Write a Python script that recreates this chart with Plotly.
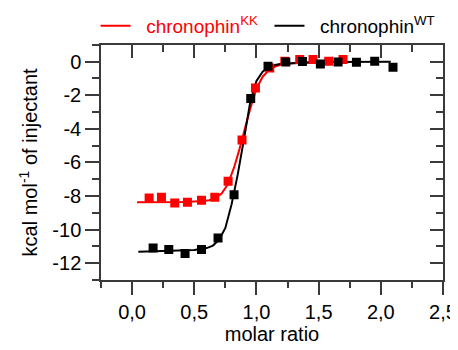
import plotly.graph_objects as go

# Measured points
kk_x = [0.137, 0.236, 0.343, 0.445, 0.558, 0.665, 0.772, 0.884, 0.992, 1.107, 1.228, 1.348, 1.455, 1.581, 1.696]
kk_y = [-8.12, -8.08, -8.42, -8.38, -8.26, -8.08, -7.13, -4.67, -1.57, -0.38, 0.02, 0.12, 0.12, 0.02, 0.12]

wt_x = [0.169, 0.295, 0.426, 0.558, 0.691, 0.82, 0.954, 1.093, 1.236, 1.37, 1.514, 1.656, 1.804, 1.951, 2.098]
wt_y = [-11.09, -11.19, -11.43, -11.19, -10.5, -7.92, -2.2, -0.28, -0.02, 0.0, -0.14, -0.02, -0.04, 0.02, -0.34]

# Fitted curves
kk_fit_x = [0.04, 0.2, 0.4, 0.55, 0.62, 0.67, 0.72, 0.77, 0.82, 0.86, 0.9, 0.95, 1.0, 1.05, 1.1, 1.15, 1.2, 1.3, 1.45, 1.72]
kk_fit_y = [-8.37, -8.37, -8.36, -8.32, -8.25, -8.12, -7.85, -7.3, -6.3, -5.3, -4.2, -2.8, -1.6, -0.9, -0.5, -0.3, -0.18, -0.08, -0.03, -0.01]

wt_fit_x = [0.05, 0.2, 0.35, 0.5, 0.6, 0.65, 0.7, 0.75, 0.8, 0.85, 0.9, 0.95, 1.0, 1.05, 1.1, 1.15, 1.2, 1.3, 1.45, 1.6, 1.8, 2.08]
wt_fit_y = [-11.32, -11.30, -11.28, -11.22, -11.1, -10.95, -10.6, -9.9, -8.5, -6.7, -4.6, -2.4, -1.15, -0.6, -0.33, -0.2, -0.13, -0.08, -0.05, -0.03, -0.02, -0.01]

x_tickvals = [0.0, 0.5, 1.0, 1.5, 2.0, 2.5]
x_ticktext = ["0,0", "0,5", "1,0", "1,5", "2,0", "2,5"]
y_tickvals = [0, -2, -4, -6, -8, -10, -12]
y_ticktext = ["0", "-2", "-4", "-6", "-8", "-10", "-12"]

RED = "#ff0000"
BLACK = "#000000"
AX = "#3a3a3a"
FONT = "Arial, Liberation Sans, sans-serif"

fig = go.Figure()
fig.add_trace(go.Scatter(x=kk_fit_x, y=kk_fit_y, mode="lines", line=dict(color=RED, width=2),
                         name="<span style='color:#ff0000'>&nbsp;&nbsp;chronophin<sup>KK</sup></span>",
                         legend="legend"))
fig.add_trace(go.Scatter(x=wt_fit_x, y=wt_fit_y, mode="lines", line=dict(color=BLACK, width=2),
                         name="&nbsp;&nbsp;chronophin<sup>WT</sup>", legend="legend2"))
fig.add_trace(go.Scatter(x=kk_x, y=kk_y, mode="markers", showlegend=False,
                         marker=dict(symbol="square", size=9, color=RED)))
fig.add_trace(go.Scatter(x=wt_x, y=wt_y, mode="markers", showlegend=False,
                         marker=dict(symbol="square", size=9, color=BLACK)))
fig.add_trace(go.Scatter(x=[None], y=[None], xaxis="x2", yaxis="y2", showlegend=False, hoverinfo="skip"))

xr = [-0.25, 2.5]
yr = [-13, 1]

common = dict(showgrid=False, zeroline=False, showline=True, linecolor=AX, linewidth=1.5,
              tickcolor=AX, tickwidth=1.5, automargin=False)

leg_common = dict(orientation="h", xref="container", yref="container", y=0.948,
                  xanchor="left", yanchor="middle",
                  font=dict(size=19, family=FONT), itemwidth=30, bgcolor="rgba(0,0,0,0)")

fig.update_layout(
    width=450, height=342,
    margin=dict(l=93, r=15, t=35, b=70),
    paper_bgcolor="white", plot_bgcolor="white",
    font=dict(family=FONT, size=20, color="#000000"),
    showlegend=True,
    legend=dict(x=0.1946, **leg_common),
    legend2=dict(x=0.581, **leg_common),
    xaxis=dict(range=xr, tickmode="array", tickvals=x_tickvals, ticktext=x_ticktext,
               ticks="outside", ticklen=13,
               minor=dict(ticks="outside", ticklen=6, dtick=0.25, tick0=0, tickcolor=AX, tickwidth=1.5),
               title=dict(text="molar ratio", standoff=4, font=dict(size=20)), **common),
    yaxis=dict(range=yr, tickmode="array", tickvals=y_tickvals, ticktext=y_ticktext,
               ticks="outside", ticklen=14,
               minor=dict(ticks="outside", ticklen=7, dtick=1, tick0=1, tickcolor=AX, tickwidth=1.5),
               title=dict(text="kcal mol<sup>-1</sup> of injectant", standoff=9, font=dict(size=20)), **common),
    xaxis2=dict(range=xr, overlaying="x", side="top", anchor="y", tickmode="array",
                tickvals=x_tickvals, showticklabels=False, ticks="inside", ticklen=13,
                minor=dict(ticks="inside", ticklen=7, dtick=0.25, tick0=0, tickcolor=AX, tickwidth=1.5),
                **common),
    yaxis2=dict(range=yr, overlaying="y", side="right", anchor="x", tickmode="array",
                tickvals=y_tickvals, showticklabels=False, ticks="inside", ticklen=13,
                minor=dict(ticks="inside", ticklen=7, dtick=1, tick0=1, tickcolor=AX, tickwidth=1.5),
                **common),
)

fig.write_html("out.html")
